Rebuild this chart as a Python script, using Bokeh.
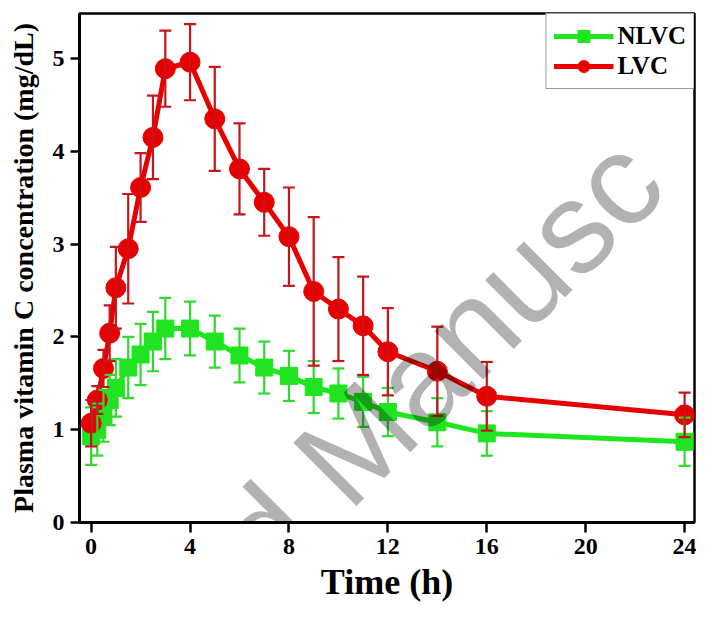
import math
from bokeh.plotting import figure
from bokeh.models import Range1d, FixedTicker, Legend, LegendItem, Label
from bokeh.embed import file_html
from bokeh.resources import INLINE

# ---------------- data ----------------
time_h = [0, 0.25, 0.5, 0.75, 1, 1.5, 2, 2.5, 3, 4, 5, 6, 7, 8, 9, 10, 11, 12, 14, 16, 24]
nlvc = [0.93, 1.00, 1.15, 1.32, 1.45, 1.67, 1.81, 1.95, 2.09, 2.09, 1.95, 1.80, 1.67, 1.58,
        1.46, 1.39, 1.30, 1.19, 1.08, 0.96, 0.87]
nlvc_err = [0.31, 0.28, 0.28, 0.27, 0.31, 0.33, 0.33, 0.32, 0.33, 0.29, 0.28, 0.29, 0.28, 0.27,
            0.28, 0.27, 0.27, 0.26, 0.26, 0.24, 0.26]
lvc = [1.07, 1.32, 1.66, 2.04, 2.53, 2.95, 3.61, 4.15, 4.89, 4.96, 4.35, 3.81, 3.45, 3.08,
       2.49, 2.30, 2.12, 1.84, 1.63, 1.36, 1.16]
lvc_err = [0.25, 0.15, 0.20, 0.30, 0.44, 0.59, 0.37, 0.45, 0.41, 0.41, 0.56, 0.49, 0.36, 0.53,
           0.80, 0.56, 0.53, 0.47, 0.48, 0.37, 0.24]
x_ticks = [0, 4, 8, 12, 16, 20, 24]
y_ticks = [0, 1, 2, 3, 4, 5]
series_names = ["NLVC", "LVC"]
watermark_text = "d Manusc"   # the part of the watermark that is visible in the figure

GREEN = "#1ee61e"
GREEN_ERR = "#2fd92f"
RED = "#e60000"
RED_ERR = "#c8141c"
FONT = "Liberation Serif"

p = figure(width=696, height=612, output_backend="svg", toolbar_location=None,
           x_range=Range1d(-0.47, 24.4), y_range=Range1d(0, 5.485),
           min_border_left=79, min_border_right=2, min_border_top=13, min_border_bottom=90,
           background_fill_color="white", border_fill_color="white")

p.xgrid.visible = False
p.ygrid.visible = False
p.outline_line_color = "black"
p.outline_line_width = 2.5
p.outline_line_alpha = 1.0

for ax in (p.xaxis[0], p.yaxis[0]):
    ax.axis_line_width = 3
    ax.axis_line_color = "black"
    ax.major_tick_line_width = 2.5
    ax.major_tick_line_color = "black"
    ax.major_tick_in = 0
    ax.minor_tick_line_color = None
    ax.major_label_text_font = FONT
    ax.major_label_text_font_style = "bold"
    ax.major_label_text_font_size = "24px"
    ax.major_label_text_color = "black"
    ax.axis_label_text_font = FONT
    ax.axis_label_text_font_style = "bold"
    ax.axis_label_text_color = "black"

p.xaxis.ticker = FixedTicker(ticks=x_ticks)
p.yaxis.ticker = FixedTicker(ticks=y_ticks)
p.xaxis.major_tick_out = 10
p.yaxis.major_tick_out = 9
p.xaxis.major_label_standoff = 6
p.yaxis.major_label_standoff = 6
p.xaxis.axis_label = "Time (h)"
p.xaxis.axis_label_text_font_size = "36px"
p.xaxis.axis_label_standoff = 5
p.yaxis.axis_label = "Plasma vitamin C concentration (mg/dL)"
p.yaxis.axis_label_text_font_size = "28px"
p.yaxis.axis_label_standoff = 11

# lines and markers
g_line = p.line(time_h, nlvc, line_color=GREEN, line_width=5)
g_mark = p.scatter(time_h, nlvc, marker="square", size=17, fill_color=GREEN, line_color=GREEN)
r_line = p.line(time_h, lvc, line_color=RED, line_width=5)
r_mark = p.scatter(time_h, lvc, marker="circle", size=20, fill_color=RED, line_color=RED)

# error bars (drawn on top, as in the original)
g_lo = [v - e for v, e in zip(nlvc, nlvc_err)]
g_hi = [v + e for v, e in zip(nlvc, nlvc_err)]
r_lo = [v - e for v, e in zip(lvc, lvc_err)]
r_hi = [v + e for v, e in zip(lvc, lvc_err)]

p.segment(x0=time_h, y0=g_lo, x1=time_h, y1=g_hi, line_color=GREEN_ERR, line_width=2.2)
p.scatter(time_h, g_lo, marker="dash", size=12, line_color=GREEN_ERR, line_width=2.2)
p.scatter(time_h, g_hi, marker="dash", size=12, line_color=GREEN_ERR, line_width=2.2)
p.segment(x0=time_h, y0=r_lo, x1=time_h, y1=r_hi, line_color=RED_ERR, line_width=2.2)
p.scatter(time_h, r_lo, marker="dash", size=12, line_color=RED_ERR, line_width=2.2)
p.scatter(time_h, r_hi, marker="dash", size=12, line_color=RED_ERR, line_width=2.2)

legend = Legend(items=[LegendItem(label=series_names[0], renderers=[g_line, g_mark]),
                       LegendItem(label=series_names[1], renderers=[r_line, r_mark])],
                location="top_right", margin=0, padding=7, spacing=0,
                glyph_width=60, glyph_height=30, label_height=30, label_standoff=4,
                label_text_font=FONT, label_text_font_style="bold",
                label_text_font_size="25px", label_text_color="black",
                border_line_color="#333333", border_line_width=1,
                background_fill_color="white", background_fill_alpha=1.0)
p.add_layout(legend)

# watermark (visible fragment)
wm = Label(x=14.1, y=1.76, text=watermark_text, angle=math.pi / 4,
           text_font="Liberation Sans", text_font_size="130px",
           text_color="black", text_alpha=0.3, text_align="center", text_baseline="middle")
p.add_layout(wm)

open("out.html", "w").write(file_html(p, INLINE))
